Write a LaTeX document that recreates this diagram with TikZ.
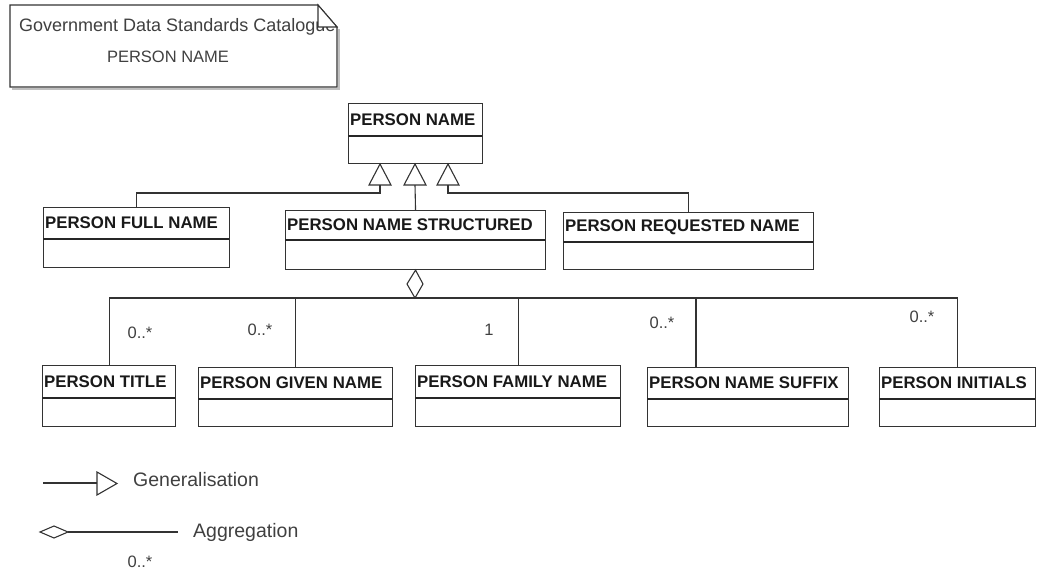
\documentclass[tikz,border=0pt]{standalone}
\usepackage{fontspec}
\setmainfont{Liberation Sans}
\tikzset{
  classbox/.style={draw=black!80, line width=1.1pt, fill=white, inner sep=0pt},
  divider/.style={draw=black!85, line width=1.7pt},
  classtitle/.style={font=\bfseries\fontsize{16.8}{18}\selectfont, inner sep=0pt, text=black!90, anchor=west},
  conn/.style={draw=black!80, line width=1.1pt},
  gentri/.style={draw=black!80, line width=1.1pt, fill=white},
  mult/.style={font=\fontsize{16.5}{18}\selectfont, text=black!75, inner sep=0pt},
  legendtext/.style={font=\fontsize{19.5}{21}\selectfont, text=black!75, inner sep=0pt, anchor=west},
  notetext/.style={font=\fontsize{16.5}{18}\selectfont, text=black!75, inner sep=0pt},
}
% name, x1, y1, x2, y2, ydivider, title
\newcommand{\umlclass}[7]{%
  \node[classbox, anchor=north west, minimum width={(#4-#2)*1pt}, minimum height={(#5-#3)*1pt}] (#1) at (#2,#3) {};
  \draw[divider] (#2,#6) -- (#4,#6);
  \node[classtitle] (#1-t) at ({#2+2},{(#3+#6)/2}) {#7};
}
\begin{document}
\begin{tikzpicture}[x=1pt,y=-1pt]
\useasboundingbox (0,0) rectangle (1037,575);

% note
\draw[black!25, line width=1.5pt] (12,89) -- (339,89) -- (339,29);
\draw[conn, fill=white] (10,5) -- (318,5) -- (337,27) -- (337,87) -- (10,87) -- cycle;
\node[notetext, anchor=west, font=\fontsize{18}{19}\selectfont] (note1) at (19,27) {Government Data Standards Catalogue};
\node[notetext] (note2) at (168,57) {PERSON NAME};
\draw[conn, fill=white] (318,5) -- (337,27) -- (318,27) -- cycle;

% classes
\umlclass{pn}{348}{103}{482}{163}{136}{PERSON NAME}
\umlclass{fn}{43}{207}{229}{267}{239}{PERSON FULL NAME}
\umlclass{ns}{285}{210}{545}{269}{240}{PERSON NAME STRUCTURED}
\umlclass{rn}{563}{212}{813}{269}{242}{PERSON REQUESTED NAME}
\umlclass{pt}{42}{365}{175}{426}{398}{PERSON TITLE}
\umlclass{gn}{198}{367}{392}{426}{399}{PERSON GIVEN NAME}
\umlclass{fa}{415}{365}{620}{426}{398}{PERSON FAMILY NAME}
\umlclass{sf}{647}{367}{848}{426}{399}{PERSON NAME SUFFIX}
\umlclass{in}{879}{367}{1035}{426}{399}{PERSON INITIALS}

% generalisation
\coordinate (t1) at (380,164);
\coordinate (t2) at (415,164);
\coordinate (t3) at (448,164);
\coordinate (t1b) at (380,185);
\coordinate (t2b) at (415,185);
\coordinate (t3b) at (448,185);
\coordinate (g1) at (380,193);
\coordinate (g3) at (448,193);
\draw[conn] (fn.north) |- (g1) -- (t1b);
\draw[conn] (ns.north) -- (t2b);
\draw[conn] (rn.north) |- (g3) -- (t3b);
\foreach \t in {t1,t2,t3} {
  \draw[gentri] (\t) -- ++(-11,21) -- ++(22,0) -- cycle;
}

% aggregation
\coordinate (dm) at (415,298);
\coordinate (sfx) at (696,367);
\draw[conn] (dm) -| (pt.north);
\draw[conn] (dm) -| (gn.north);
\draw[conn] (dm) -| (fa.north);
\draw[conn] (dm) -| (sfx);
\draw[conn] (dm) -| (in.north);
\draw[gentri] (ns.south) -- (423,284) -- (dm) -- (407,284) -- cycle;

% multiplicities
\node[mult] (m1) at (140,333) {0..*};
\node[mult] (m2) at (260,330) {0..*};
\node[mult] (m3) at (489,330) {1};
\node[mult] (m4) at (662,323) {0..*};
\node[mult] (m5) at (922,317) {0..*};

% legend
\coordinate (lg1) at (43,483);
\coordinate (lg2) at (97,483);
\draw[conn] (lg1) -- (lg2);
\draw[gentri] (97,472) -- (117,483.5) -- (97,495) -- cycle;
\node[legendtext] (lgt1) at (133,480) {Generalisation};
\coordinate (la1) at (68,532);
\coordinate (la2) at (178,532);
\draw[conn] (la1) -- (la2);
\draw[gentri] (40,532) -- (54,526) -- (la1) -- (54,538) -- cycle;
\node[legendtext] (lgt2) at (193,532) {Aggregation};
\node[mult] (lgm) at (140,562) {0..*};
\end{tikzpicture}
\end{document}
